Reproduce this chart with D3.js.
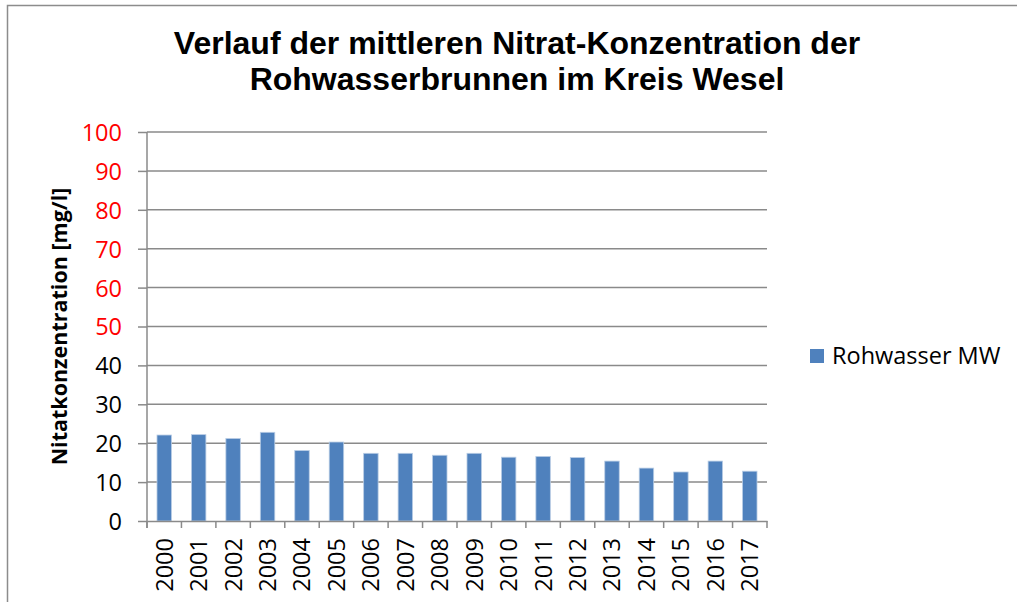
<!DOCTYPE html>
<html>
<head>
<meta charset="utf-8">
<script src="https://cdn.jsdelivr.net/npm/d3@7"></script>
<style>
  body { margin: 0; background: #fff; }
  svg { display: block; }
</style>
</head>
<body>
<div class="myChart"></div>
<script>
var years = ["2000","2001","2002","2003","2004","2005","2006","2007","2008",
             "2009","2010","2011","2012","2013","2014","2015","2016","2017"];
var nitrat = [22.1, 22.2, 21.2, 22.8, 18.1, 20.3, 17.4, 17.4, 16.9,
              17.4, 16.4, 16.6, 16.3, 15.4, 13.6, 12.6, 15.4, 12.8];
var yTicks = [0, 10, 20, 30, 40, 50, 60, 70, 80, 90, 100];
var titleLines = ["Verlauf der mittleren Nitrat-Konzentration der",
                  "Rohwasserbrunnen im Kreis Wesel"];
var seriesName = "Rohwasser MW";
var yTitle = "Nitatkonzentration [mg/l]";

var svgWidth = 1017;
var svgHeight = 602;
var bodyFont = "'Open Sans', 'Noto Sans', sans-serif";

var chartMargin = { top: 132, left: 147 };
var chartWidth = 767 - 147;
var chartHeight = 521 - 132;

var svg = d3.select(".myChart")
  .append("svg")
  .attr("width", svgWidth)
  .attr("height", svgHeight);

// outer chart frame (runs off the right and bottom edge)
svg.append("rect")
  .attr("x", 7.5)
  .attr("y", 5.5)
  .attr("width", 1040)
  .attr("height", 640)
  .attr("fill", "none")
  .attr("stroke", "#8c8c8c")
  .attr("stroke-width", 1.5);

// title
svg.append("text")
  .attr("x", 517)
  .attr("y", 54)
  .style("text-anchor", "middle")
  .style("font-family", "'Liberation Sans', Arial, sans-serif")
  .style("font-weight", "bold")
  .style("font-size", "32px")
  .selectAll("tspan")
  .data(titleLines)
  .enter().append("tspan")
    .attr("x", 517)
    .attr("dy", function(d, i) { return i === 0 ? 0 : 36; })
    .text(function(d) { return d; });

var chart = svg.append("g")
  .attr("transform", "translate(" + chartMargin.left + "," + chartMargin.top + ")");

var xBandScale = d3.scaleBand()
  .domain(years)
  .range([0, chartWidth])
  .paddingInner(0.58)
  .paddingOuter(0.29);

var yLinearScale = d3.scaleLinear()
  .domain([0, 100])
  .range([chartHeight, 0]);

// gridlines
chart.append("g")
  .selectAll("line")
  .data(yTicks.filter(function(d) { return d > 0; }))
  .enter().append("line")
    .attr("x1", 0)
    .attr("x2", chartWidth)
    .attr("y1", function(d) { return yLinearScale(d); })
    .attr("y2", function(d) { return yLinearScale(d); })
    .attr("stroke", "#8a8a8a")
    .attr("stroke-width", 1.5);

// bars
chart.selectAll("rect.bar")
  .data(nitrat)
  .enter().append("rect")
    .attr("class", "bar")
    .attr("x", function(d, i) { return xBandScale(years[i]); })
    .attr("y", function(d) { return yLinearScale(d); })
    .attr("width", xBandScale.bandwidth())
    .attr("height", function(d) { return chartHeight - yLinearScale(d); })
    .attr("fill", "#4f81bd")
    .attr("stroke", "#b9cde5")
    .attr("stroke-width", 0.8);

// axes
var leftAxis = d3.axisLeft(yLinearScale)
  .tickValues(yTicks)
  .tickSize(9)
  .tickPadding(16)
  .tickSizeOuter(0);

var bottomAxis = d3.axisBottom(xBandScale)
  .tickSize(0)
  .tickSizeOuter(0);

var yAxisG = chart.append("g").call(leftAxis);
yAxisG.select(".domain").attr("stroke", "#8a8a8a").attr("stroke-width", 1.5)
  .attr("d", "M0,0V" + (chartHeight + 7));
yAxisG.selectAll(".tick line").attr("stroke", "#8a8a8a").attr("stroke-width", 1.5);
yAxisG.selectAll(".tick text")
  .attr("dy", "0.36em")
  .style("font-family", bodyFont)
  .style("font-size", "23.5px")
  .attr("fill", function(d) { return d >= 50 ? "#ff0000" : "#000"; });

var xAxisG = chart.append("g")
  .attr("transform", "translate(0," + chartHeight + ")")
  .call(bottomAxis);
xAxisG.select(".domain").attr("stroke", "#8a8a8a").attr("stroke-width", 1.5);
xAxisG.selectAll(".tick text")
  .attr("transform", "rotate(-90)")
  .attr("x", -17)
  .attr("y", 0)
  .attr("dy", "0.36em")
  .style("text-anchor", "end")
  .style("font-family", bodyFont)
  .style("font-size", "23.5px")
  .attr("fill", "#000");

// category separator ticks on the x axis
var step = xBandScale.step();
chart.append("g")
  .selectAll("line")
  .data(d3.range(years.length + 1))
  .enter().append("line")
    .attr("x1", function(d) { return d * step; })
    .attr("x2", function(d) { return d * step; })
    .attr("y1", chartHeight)
    .attr("y2", chartHeight + 7)
    .attr("stroke", "#8a8a8a")
    .attr("stroke-width", 1.5);

// y axis title
svg.append("text")
  .attr("transform", "translate(67," + (chartMargin.top + chartHeight / 2) + ") rotate(-90)")
  .style("text-anchor", "middle")
  .style("font-family", bodyFont)
  .style("font-weight", "bold")
  .style("font-size", "21.5px")
  .text(yTitle);

// legend
var legend = svg.append("g").attr("transform", "translate(810,349)");
legend.append("rect")
  .attr("width", 14)
  .attr("height", 14)
  .attr("fill", "#4f81bd");
legend.append("text")
  .attr("x", 22)
  .attr("y", 7)
  .attr("dy", "0.36em")
  .style("font-family", bodyFont)
  .style("font-size", "23.5px")
  .text(seriesName);
</script>
</body>
</html>
